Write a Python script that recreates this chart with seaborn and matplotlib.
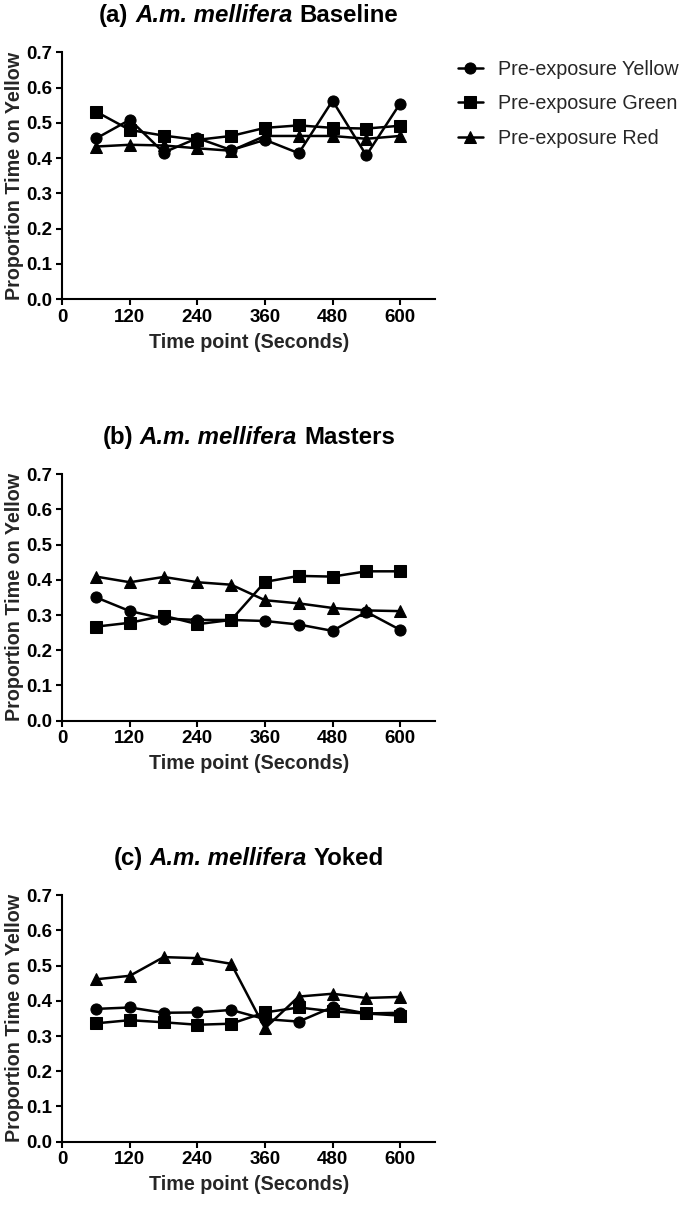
import seaborn as sns
import matplotlib.pyplot as plt
from matplotlib.offsetbox import TextArea, HPacker, AnchoredOffsetbox

sns.set_theme(style = "ticks")
plt.rcParams['font.family'] = ['Liberation Sans', 'DejaVu Sans']

# Data
time_points = [60, 120, 180, 240, 300, 360, 420, 480, 540, 600]
series_names = ["Pre-exposure Yellow", "Pre-exposure Green", "Pre-exposure Red"]

baseline_yellow = [0.456, 0.509, 0.416, 0.457, 0.423, 0.452, 0.414, 0.563, 0.408, 0.555]
baseline_green = [0.532, 0.480, 0.464, 0.452, 0.463, 0.486, 0.493, 0.486, 0.484, 0.492]
baseline_red = [0.433, 0.438, 0.436, 0.428, 0.421, 0.463, 0.463, 0.463, 0.455, 0.463]

masters_yellow = [0.350, 0.311, 0.290, 0.286, 0.286, 0.283, 0.273, 0.255, 0.309, 0.258]
masters_green = [0.267, 0.278, 0.298, 0.274, 0.286, 0.394, 0.411, 0.409, 0.424, 0.424]
masters_red = [0.409, 0.393, 0.408, 0.393, 0.386, 0.342, 0.333, 0.320, 0.313, 0.311]

yoked_yellow = [0.377, 0.381, 0.366, 0.367, 0.374, 0.348, 0.341, 0.382, 0.364, 0.366]
yoked_green = [0.336, 0.345, 0.339, 0.332, 0.335, 0.367, 0.381, 0.370, 0.364, 0.358]
yoked_red = [0.461, 0.471, 0.524, 0.521, 0.505, 0.322, 0.412, 0.420, 0.408, 0.411]

panels = [
    ("(a)", "Baseline", [baseline_yellow, baseline_green, baseline_red]),
    ("(b)", "Masters", [masters_yellow, masters_green, masters_red]),
    ("(c)", "Yoked", [yoked_yellow, yoked_green, yoked_red]),
]
markers = ["o", "s", "^"]

fig = plt.figure(figsize = (6.85, 12.06), dpi = 100)
bottoms = [0.752, 0.4024, 0.0533]
title_size = 17.3
label_size = 14.2
tick_size = 13.5

for (tag, group, values), bottom in zip(panels, bottoms):
    ax = fig.add_axes([0.091, bottom, 0.544, 0.2045])
    for name, vals, mk in zip(series_names, values, markers):
        sns.lineplot(x = time_points, y = vals, ax = ax, color = "black",
                     marker = mk, markersize = 8, linewidth = 1.8,
                     markeredgecolor = "black", label = name, legend = False)
    ax.set_xlim(0, 662)
    ax.set_ylim(0, 0.7)
    ax.set_xticks([0, 120, 240, 360, 480, 600])
    ax.set_yticks([i / 10 for i in range(8)])
    ax.set_yticklabels([f"{i / 10:.1f}" for i in range(8)])
    ax.tick_params(axis = "both", direction = "out", length = 4, width = 1.5,
                   labelsize = tick_size, pad = 3, color = "black", labelcolor = "black")
    for lbl in ax.get_xticklabels() + ax.get_yticklabels():
        lbl.set_fontweight("bold")
    ax.set_xlabel("Time point (Seconds)", fontsize = label_size, fontweight = "bold", labelpad = 5)
    ax.set_ylabel("Proportion Time on Yellow", fontsize = label_size, fontweight = "bold", labelpad = 2)

    # Title with italic species name
    bold = dict(fontsize = title_size, fontweight = "bold", color = "black")
    ital = dict(fontsize = title_size, fontweight = "bold", fontstyle = "italic", color = "black")
    title_box = HPacker(children = [TextArea(tag, textprops = bold),
                                    TextArea("A.m. mellifera", textprops = ital),
                                    TextArea(group, textprops = bold)],
                        sep = 4.8, pad = 0, align = "baseline")
    anchored = AnchoredOffsetbox(loc = "lower center", child = title_box, pad = 0,
                                 borderpad = 0, frameon = False,
                                 bbox_to_anchor = (0.5, 1.102),
                                 bbox_transform = ax.transAxes)
    ax.add_artist(anchored)

    for side in ["left", "bottom"]:
        ax.spines[side].set_linewidth(1.5)
        ax.spines[side].set_color("black")
    sns.despine(ax = ax)
    if bottom == bottoms[0]:
        handles, labels = ax.get_legend_handles_labels()

fig.legend(handles, labels, loc = "upper left", bbox_to_anchor = (0.668, 1 - 60 / 1206),
           frameon = False, fontsize = 14.2, handlelength = 1.3, labelspacing = 0.78,
           handletextpad = 0.75, borderaxespad = 0, borderpad = 0)

fig.savefig("out.png", dpi = 100)
